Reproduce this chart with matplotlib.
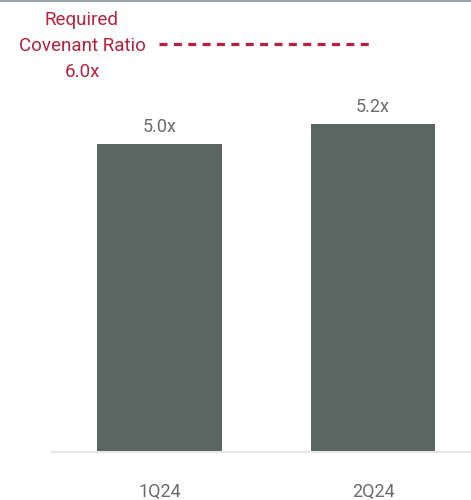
import matplotlib
matplotlib.use("Agg")
import matplotlib.pyplot as plt

# data
quarters = ["1Q24", "2Q24"]
ratios = [5.0, 5.2]
covenant = 6.0
covenant_label = "Required\nCovenant Ratio\n6.0x"

bar_color = "#5a6662"
red = "#b7213b"
grey_txt = "#6b6b6b"

plt.rcParams['font.family'] = ['Liberation Sans Narrow', 'Roboto', 'DejaVu Sans']

fig = plt.figure(figsize=(4.71, 5.0), dpi=100)
ax = fig.add_axes([52 / 471, 48 / 500, 419 / 471, 452 / 500])

x = range(len(quarters))
bars = ax.bar(x, ratios, width=0.585, color=bar_color, zorder=2)

for b, v in zip(bars, ratios):
    ax.text(b.get_x() + b.get_width() / 2, v + 0.08, f"{v:.1f}x",
            ha="center", va="bottom", fontsize=13, color=grey_txt)

# dashed covenant line over the bars
ax.hlines(covenant, 0, 1, colors=red, linestyles=(0, (2.5, 2.0)), lw=2.3)
ax.text(-0.363, covenant - 0.02, covenant_label, ha="center", va="center",
        fontsize=13.5, color=red, linespacing=1.6, clip_on=False)

ax.set_xlim(-0.5035, 1.459)
ax.set_ylim(1.92, 6.44)
ax.set_xticks(list(x))
ax.set_xticklabels(quarters, fontsize=13, color=grey_txt)
ax.tick_params(axis="x", length=0, pad=22)
ax.set_yticks([])

for s in ["top", "right", "left"]:
    ax.spines[s].set_visible(False)
ax.spines["bottom"].set_color("#e6e6e6")
ax.spines["bottom"].set_linewidth(1.5)

# thin grey rule along the top edge
fig.add_artist(plt.Line2D([0, 1], [0.999, 0.999], color="#9aa4a8", lw=1.5))

fig.savefig("out.png", dpi=100)
